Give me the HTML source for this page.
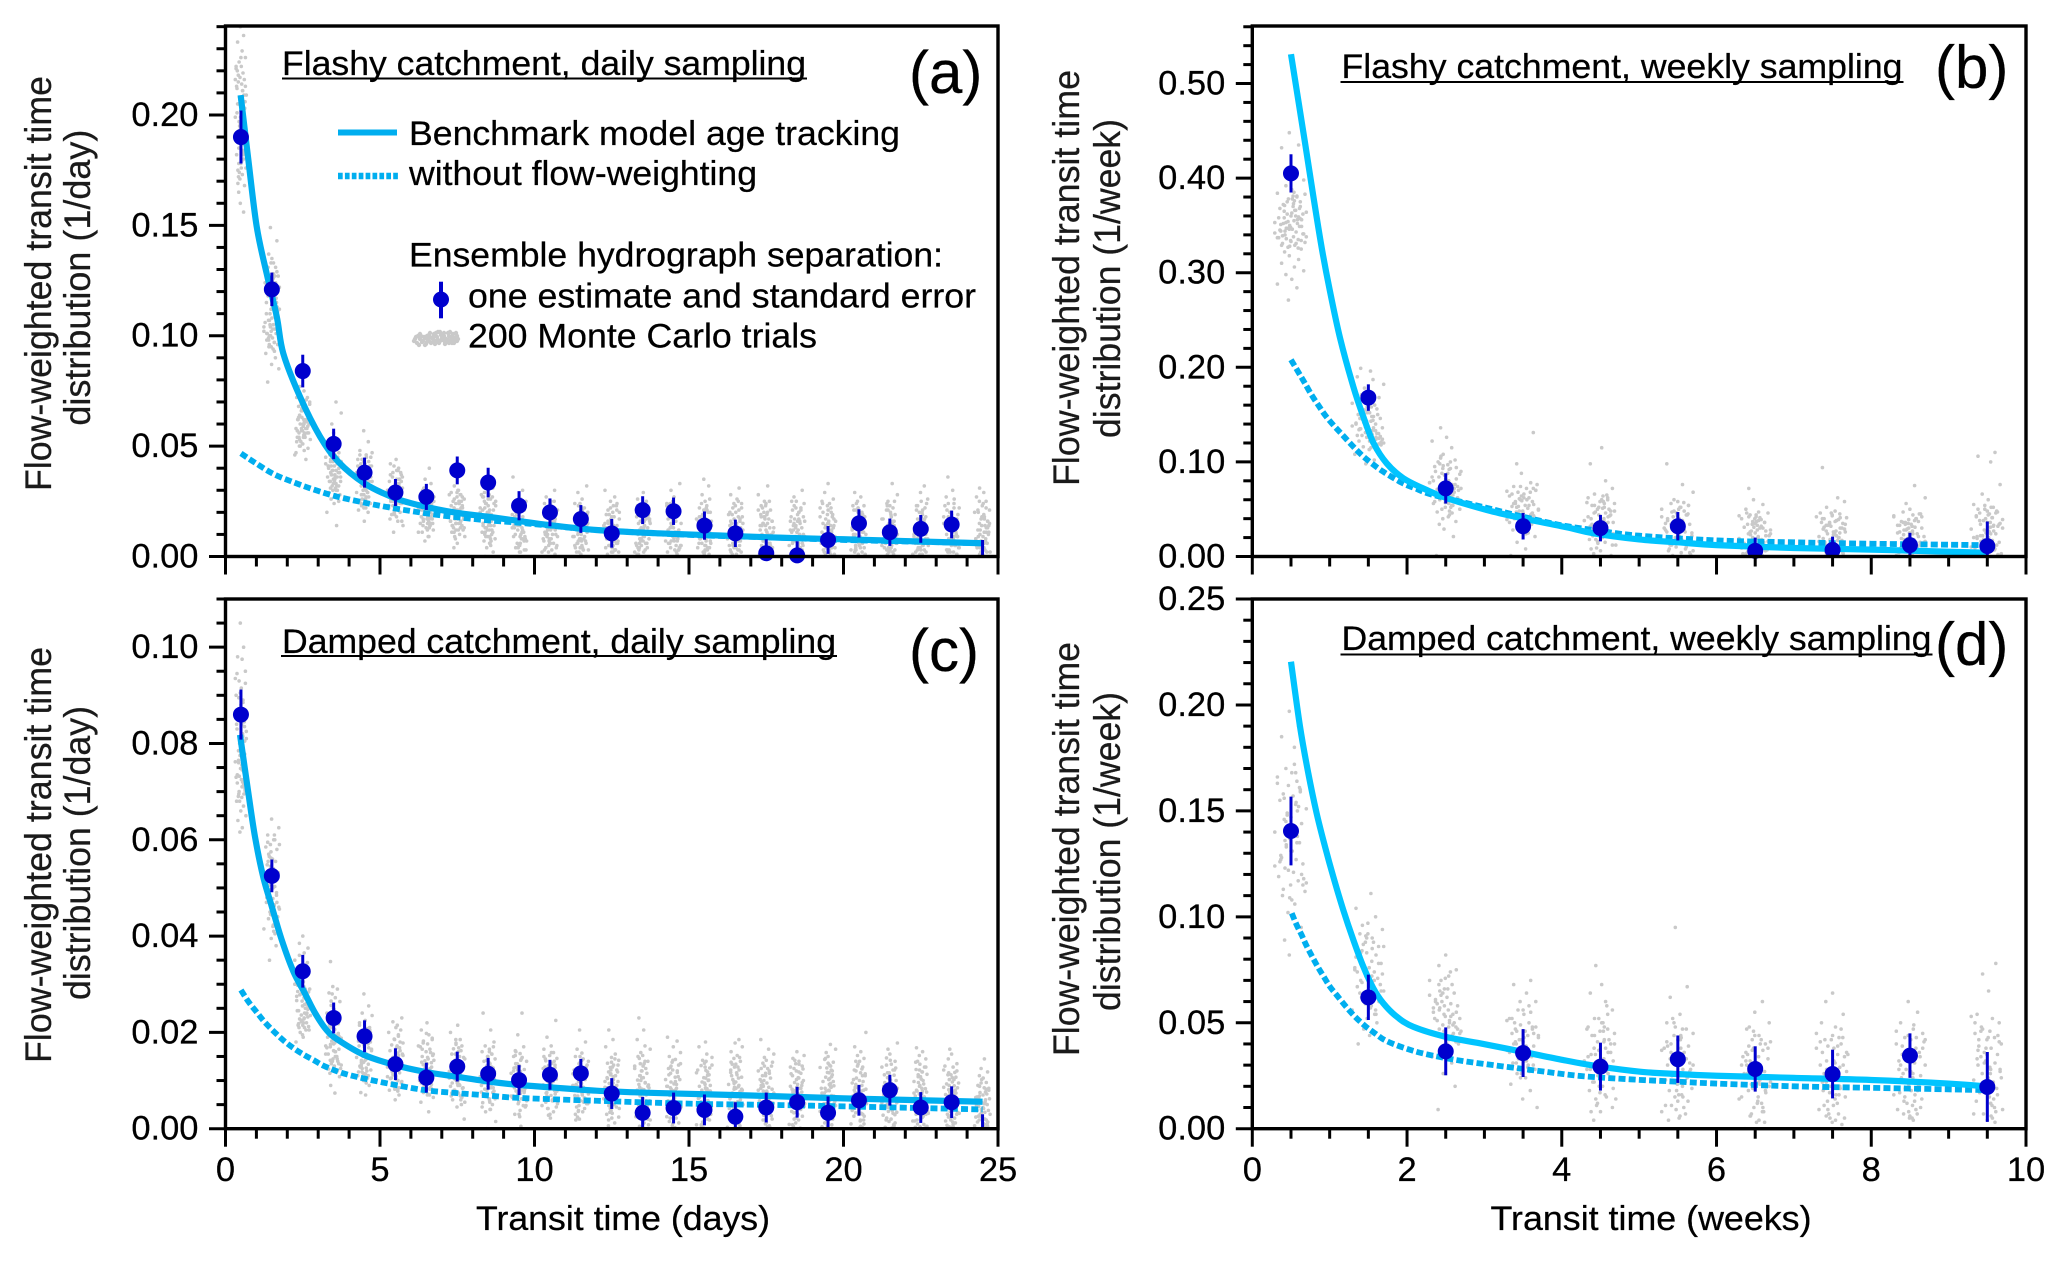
<!DOCTYPE html>
<html lang="en">
<head>
<meta charset="utf-8">
<title>Flow-weighted transit time distributions</title>
<style>
html,body{margin:0;padding:0;background:#fff;}
svg{display:block;}
text{font-family:"Liberation Sans",Arial,sans-serif;fill:#000;stroke:#000;stroke-width:.25px;}
.tick{font-size:34.5px;}
.body{font-size:34.5px;}
.ytitle{font-size:37.5px;fill:#1a1a1a;stroke:#1a1a1a;}
.tag{font-size:60px;}
</style>
</head>
<body>
<svg id="figure" xmlns="http://www.w3.org/2000/svg" width="2067" height="1262" viewBox="0 0 2067 1262">
  <rect width="2067" height="1262" fill="#fff"/>
  <defs>
    <clipPath id="plot-a"><rect x="225" y="26" width="773" height="531"/></clipPath>
    <clipPath id="plot-b"><rect x="1252" y="26" width="774" height="531"/></clipPath>
    <clipPath id="plot-c"><rect x="225" y="599" width="773" height="530"/></clipPath>
    <clipPath id="plot-d"><rect x="1252" y="599" width="774" height="530"/></clipPath>
    <clipPath id="mark-a"><rect x="215" y="26" width="790" height="544"/></clipPath>
    <clipPath id="mark-b"><rect x="1242" y="26" width="790" height="544"/></clipPath>
    <clipPath id="mark-c"><rect x="215" y="599" width="790" height="543"/></clipPath>
    <clipPath id="mark-d"><rect x="1242" y="599" width="790" height="543"/></clipPath>
  </defs>
  <g id="layer-a"></g>
  <g id="layer-b"></g>
  <g id="layer-c"></g>
  <g id="layer-d"></g>

  <text class="ytitle" transform="translate(51,491) rotate(-90)" textLength="415" lengthAdjust="spacingAndGlyphs">Flow-weighted transit time</text>
  <text class="ytitle" transform="translate(90,425.6) rotate(-90)" textLength="296" lengthAdjust="spacingAndGlyphs">distribution (1/day)</text>
  <text class="ytitle" transform="translate(1079,486) rotate(-90)" textLength="416" lengthAdjust="spacingAndGlyphs">Flow-weighted transit time</text>
  <text class="ytitle" transform="translate(1120,438) rotate(-90)" textLength="319" lengthAdjust="spacingAndGlyphs">distribution (1/week)</text>
  <text class="ytitle" transform="translate(51,1063) rotate(-90)" textLength="416" lengthAdjust="spacingAndGlyphs">Flow-weighted transit time</text>
  <text class="ytitle" transform="translate(90,1000) rotate(-90)" textLength="294" lengthAdjust="spacingAndGlyphs">distribution (1/day)</text>
  <text class="ytitle" transform="translate(1079,1056) rotate(-90)" textLength="414" lengthAdjust="spacingAndGlyphs">Flow-weighted transit time</text>
  <text class="ytitle" transform="translate(1120,1011) rotate(-90)" textLength="319" lengthAdjust="spacingAndGlyphs">distribution (1/week)</text>

  <text class="body" x="282" y="75" textLength="524" lengthAdjust="spacingAndGlyphs">Flashy catchment, daily sampling</text>
  <line x1="282" x2="807" y1="78.5" y2="78.5" stroke="#000" stroke-width="2"/>
  <text class="body" x="1341.5" y="78" textLength="561" lengthAdjust="spacingAndGlyphs">Flashy catchment, weekly sampling</text>
  <line x1="1340.5" x2="1903.5" y1="82" y2="82" stroke="#000" stroke-width="2"/>
  <text class="body" x="282" y="653" textLength="554" lengthAdjust="spacingAndGlyphs">Damped catchment, daily sampling</text>
  <line x1="281" x2="837" y1="656" y2="656" stroke="#000" stroke-width="2"/>
  <text class="body" x="1341.5" y="650" textLength="590" lengthAdjust="spacingAndGlyphs">Damped catchment, weekly sampling</text>
  <line x1="1340.5" x2="1932.5" y1="654.5" y2="654.5" stroke="#000" stroke-width="2"/>

  <text class="tag" x="909" y="93">(a)</text>
  <text class="tag" x="1935" y="87.5">(b)</text>
  <text class="tag" x="909" y="671">(c)</text>
  <text class="tag" x="1935" y="664.5">(d)</text>

  <text class="body" x="476" y="1230" textLength="294" lengthAdjust="spacingAndGlyphs">Transit time (days)</text>
  <text class="body" x="1490.5" y="1230" textLength="321" lengthAdjust="spacingAndGlyphs">Transit time (weeks)</text>

  <g>
    <line x1="338" x2="397" y1="132.5" y2="132.5" stroke="#00aeef" stroke-width="6"/>
    <text class="body" x="409" y="145" textLength="491" lengthAdjust="spacingAndGlyphs">Benchmark model age tracking</text>
    <line x1="338" x2="399" y1="176" y2="176" stroke="#00aeef" stroke-width="6.5" stroke-dasharray="4.7 2.2"/>
    <text class="body" x="409" y="185" textLength="348" lengthAdjust="spacingAndGlyphs">without flow-weighting</text>
    <text class="body" x="409" y="266.7" textLength="534" lengthAdjust="spacingAndGlyphs">Ensemble hydrograph separation:</text>
    <line x1="441" x2="441" y1="281.7" y2="318.3" stroke="#0000cd" stroke-width="4"/>
    <circle cx="441" cy="299.5" r="8" fill="#0000cd"/>
    <text class="body" x="468" y="307.7" textLength="508" lengthAdjust="spacingAndGlyphs">one estimate and standard error</text>
    <g id="legend-cloud"></g>
    <text class="body" x="468" y="347.7" textLength="349" lengthAdjust="spacingAndGlyphs">200 Monte Carlo trials</text>
  </g>
</svg>

<script>
/* ---------- bin centres ---------- */
const binsDaily = [0.5,1.5,2.5,3.5,4.5,5.5,6.5,7.5,8.5,9.5,10.5,11.5,12.5,13.5,14.5,15.5,16.5,17.5,18.5,19.5,20.5,21.5,22.5,23.5,24.5];
const binsWeekly = [0.5,1.5,2.5,3.5,4.5,5.5,6.5,7.5,8.5,9.5];

/* ---------- single-estimate points and standard errors ---------- */
const estimateA = [.19,.121,.084,.051,.038,.029,.027,.039,.0335,.023,.02,.017,.0105,.021,.0205,.014,.0105,.0015,.0005,.0075,.015,.011,.0125,.0145,-.015];
const errorA = [.012,.0076,.0074,.0069,.0068,.0061,.0059,.0063,.0067,.0066,.0063,.0063,.0065,.0063,.0062,.0064,.0062,.0063,.0064,.0063,.0064,.0062,.0063,.0063,.0225];
const estimateB = [.405,.168,.072,.032,.03,.032,.006,.007,.012,.011];
const errorB = [.0202,.014,.016,.014,.014,.015,.014,.014,.013,.026];
const estimateC = [.086,.0525,.0327,.023,.0192,.0134,.0106,.0129,.0114,.0101,.0112,.0115,.0073,.0033,.0043,.0039,.0025,.0044,.0055,.0033,.0059,.008,.0044,.0055,-.006];
const errorC = [.0052,.0034,.0034,.0032,.0033,.0033,.0031,.0031,.0033,.0031,.0031,.003,.0032,.0033,.0032,.0032,.003,.0031,.0032,.0034,.0032,.0032,.0032,.0033,.009];
const estimateD = [.1405,.062,.0365,.0357,.0293,.0328,.0282,.0258,.0345,.0197];
const errorD = [.0162,.0107,.0113,.0113,.0113,.0112,.0107,.0115,.0105,.0165];

/* ---------- model curves ---------- */
const benchTimesA = [.49,.74,1.01,1.33,1.66,1.87,2.41,3.06,3.65,4.49,5.49,6.46,7.48,8.5,9.48,10.5,12,14,16,18,20,22,24.5];
const benchA = [.209,.1796,.1494,.1283,.1086,.092,.0724,.0543,.0429,.0332,.0264,.0226,.0198,.018,.0161,.0142,.012,.0105,.0095,.0085,.0078,.007,.006];
const dashTimesA = [.5,.955,1.55,2.19,2.84,3.54,4.49,5.27,6.13,7.16,8.4,9.48,10.5,12,15,18,20,24.5];
const dashA = [.0467,.0425,.0374,.0337,.0304,.0274,.0244,.0223,.0203,.0183,.0165,.0153,.014,.012,.0098,.0085,.0075,.006];

const benchTimesB = [.5,.68,.8,.9,1,1.134,1.306,1.435,1.568,1.737,1.953,2.254,2.495,3.03,3.494,4.06,4.41,5,5.5,6,7,8,9,9.5];
const benchB = [.531,.438,.375,.325,.282,.231,.1795,.1478,.1197,.0985,.0827,.0703,.0622,.0492,.0404,.0309,.0245,.018,.015,.012,.009,.0073,.005,.004];
const dashTimesB = [.5,.617,.681,.767,.853,.94,1.047,1.155,1.285,1.414,1.543,1.693,1.931,2.103,2.34,3,3.5,4,4.5,5,6,7,8,9.5];
const dashB = [.208,.1919,.183,.1707,.16,.1496,.139,.1295,.1179,.1073,.0985,.0896,.078,.0721,.065,.052,.042,.033,.027,.022,.017,.015,.0135,.012];

const benchTimesC = [.47,.74,.955,1.22,1.5,1.82,2.2,2.57,2.9,3.27,3.65,4.49,5.49,6.46,7.48,8.5,9.48,10.5,12,14,17,20,24.5];
const benchC = [.0818,.0697,.0606,.0523,.0461,.0392,.0326,.0281,.024,.0205,.0184,.0153,.0132,.0118,.0108,.0098,.0091,.0086,.0079,.0074,.0069,.0063,.0056];
const dashTimesC = [.5,.74,1.01,1.26,1.58,1.9,2.23,2.55,2.84,3.2,3.81,4.57,5.49,6.46,7.48,8.5,9.48,12,15,18,21,24.5];
const dashC = [.0288,.0264,.0242,.0222,.0201,.0182,.0166,.0153,.0143,.013,.0115,.0103,.0091,.008,.0074,.0069,.0064,.0058,.0052,.0049,.0045,.004];

const benchTimesD = [.5,.617,.724,.832,.94,1.047,1.176,1.306,1.435,1.564,1.693,1.866,2.08,2.495,2.943,3.495,4.02,4.494,5.01,5.49,6,7,8,9,9.5];
const benchD = [.2204,.1897,.1677,.1488,.1331,.1189,.1032,.0891,.0765,.0663,.0592,.0529,.0481,.0434,.0403,.0363,.0324,.0293,.0269,.0258,.025,.024,.023,.0213,.0199];
const dashTimesD = [.51,.574,.638,.703,.832,.918,1.004,1.09,1.211,1.327,1.457,1.586,1.728,1.974,2.232,2.642,3.03,3.676,4.235,4.88,5.49,6,7,8,9.5];
const dashD = [.1017,.0961,.0914,.0862,.0773,.0721,.067,.0631,.0576,.0529,.0485,.045,.0415,.038,.0353,.0324,.0304,.0274,.0249,.0233,.0222,.0213,.02,.0193,.0182];

/* ---------- Monte Carlo trials, read by eye per bin ---------- */
const trialUnitA = 0.001;
const trialsA = [
[240,236,233,229,226,224,222,221,219,217,216,215,214,212,211,209,208,206,205,203,201,199,198,196,195,193,192,190,188,187,185,183,182,180,178,176,175,173,171,168,165,160,156],
[149,143,137,133,131,130,128,127,126,125,124,122,121,120,118,117,115,113,112,110,108,107,106,105,104,103,102,101,100,99,98,97,96,95,94,92,90,87,85,79],
[77,75,72,71,70,69,68,67,66,65,64,63,62,62,61,60,60,59,58,58,57,56,56,55,54,54,53,52,51,50,49,48,46,44],
[70,65,60,56,50,47,46,45,44,43,42,41,41,40,39,38,38,37,36,36,35,34,34,33,32,32,31,30,30,29,28,28,26,24,20,14],
[57,52,48,46,45,44,42,41,40,39,38,38,37,36,35,34,33,32,32,31,30,29,29,28,27,26,26,25,24,24,23,22,21,20,16],
[44,42,39,37,36,35,34,33,32,31,30,30,29,28,27,27,26,25,25,24,23,23,22,21,20,20,19,18,17,16,14,11],
[40,35,33,30,29,28,27,27,26,25,24,24,23,22,21,21,20,19,19,18,17,17,16,15,15,14,13,12,11,9,7],
[32,30,29,28,27,26,25,24,24,23,22,21,20,20,19,18,18,17,16,15,15,14,13,12,11,10,9,8,6,4],
[31,29,28,27,26,25,24,23,22,21,21,20,19,18,17,17,16,15,14,14,13,12,11,10,9,8,7,6,4,2,0],
[36,30,26,25,24,23,22,21,20,19,18,17,16,16,15,14,13,13,12,11,10,9,9,8,7,6,5,4,3,2],
[30,27,25,24,22,21,20,19,18,17,16,15,15,14,13,12,12,11,10,10,9,8,7,6,6,5,4,3,2,1],
[32,29,26,24,22,21,20,19,18,17,16,15,14,14,13,12,11,11,10,9,8,8,7,6,5,4,3,3,2,1],
[30,27,25,23,21,20,19,18,17,16,15,15,14,13,12,11,10,10,9,8,8,7,6,5,5,4,3,2,2,1],
[29,26,24,22,21,20,18,17,17,16,15,14,13,13,12,11,11,10,9,8,8,7,6,6,5,4,3,2,1,0],
[33,30,27,24,22,21,20,19,18,17,16,15,14,13,13,12,11,10,10,9,8,7,7,6,5,4,4,3,2,1],
[35,32,28,25,22,21,20,18,17,16,16,15,14,13,12,12,11,10,9,9,8,7,6,6,5,4,3,2,1,0],
[31,28,26,24,22,20,19,18,17,16,15,14,14,13,12,11,11,10,9,8,8,7,6,5,5,4,3,3,2,1],
[32,28,25,23,21,20,19,18,17,16,15,15,14,13,12,11,10,10,9,8,7,7,6,5,4,4,3,2,1,0],
[30,27,25,22,21,20,18,17,16,16,15,14,13,12,12,11,10,9,9,8,7,6,6,5,4,3,3,2,1,0],
[33,29,26,24,22,20,19,18,17,16,15,14,14,13,12,11,11,10,9,8,8,7,6,5,5,4,3,2,1,1],
[29,27,25,23,21,20,19,17,16,15,15,14,13,12,12,11,10,9,9,8,7,7,6,5,4,4,3,2,1,0],
[33,28,25,23,21,19,18,17,16,15,14,14,13,12,11,11,10,9,8,8,7,6,6,5,4,3,3,2,1,0],
[32,29,26,23,21,20,18,17,16,15,14,14,13,12,11,10,10,9,8,8,7,6,5,5,4,3,3,2,1,1],
[36,30,27,24,22,20,19,18,17,16,15,14,13,13,12,11,10,9,9,8,7,6,6,5,4,3,2,2,1,0],
[31,29,27,25,23,21,20,18,17,16,15,14,13,12,11,11,10,9,8,7,7,6,5,4,4,3,2,2,1,0]
];
const moreTrialsA = [
[205,188,213,197,176,222,184,207,193,218,179,201,211,186,195,226,172,203,190,216,182,199,209,174,194,220,187,206,178,197,213,183,202,191,169,208],
[118,104,129,98,112,124,101,133,108,96,120,106,127,100,115,131,103,110,97,122,105,135,99,113,126,102,109,95,117,107,128,101,93,111],
[66,58,71,54,62,68,56,74,60,52,65,57,70,63,55,69,59,53,67,61,73,56,64,50,60,47,66,58,72,54,62,57],
[44,38,46,35,41,33,43,37,47,34,40,36,42,32,39,45,37,34,41,30,38,44,35,28,42,33,36,48,31,39,25,43],
[41,35,45,30,38,28,43,33,46,27,36,40,31,44,29,37,34,42,26,39,32,47,28,35,24,41,30,38,33,22,43,36],
[33,27,38,24,30,40,26,35,23,31,37,28,34,25,39,29,32,22,36,27,33,41,24,30,19,35,26,29,16,38,31,23],
[24,17,29,14,21,26,15,31,19,23,13,27,18,22,12,28,16,25,20,30,14,23,18,11,26,21,15,29,17,24,9,19],
[22,15,28,13,19,25,17,30,14,21,12,26,18,23,16,29,13,20,24,15,27,11,19,22,14,25,17,9,21,16,28,12],
[20,12,27,9,17,24,14,28,7,19,11,25,15,21,8,23,13,26,10,18,6,22,16,12,27,9,20,14,5,24,11,17],
[17,8,23,11,19,5,14,25,9,21,6,16,12,24,3,18,10,20,7,15,4,22,13,26,8,17,2,19,11,14],
[15,7,22,10,18,4,13,24,8,20,5,16,11,23,3,17,9,14,6,19,12,21,2,15,8,25,10,6,18,13],
[16,6,21,9,19,4,12,23,7,17,3,14,10,22,5,18,8,15,2,20,11,13,6,24,9,16,4,19,7,12],
[14,5,21,8,17,3,12,23,7,19,4,15,10,22,6,16,2,13,9,20,5,18,11,24,7,14,3,17,10,12],
[15,7,24,4,18,10,2,21,12,6,16,9,23,3,19,8,13,5,22,11,17,1,14,8,20,6,12,25,4,16],
[16,5,22,9,18,3,13,25,7,20,11,4,15,8,23,2,17,10,6,19,12,21,5,14,9,24,3,16,7,11],
[14,6,23,10,19,2,12,26,8,17,4,21,9,15,3,18,11,7,24,5,13,20,1,16,8,22,10,4,18,12],
[15,5,21,8,18,2,13,24,7,19,10,3,16,11,22,6,14,9,25,4,17,12,1,20,8,15,6,23,10,13],
[17,4,22,9,19,1,13,25,6,15,10,3,21,8,14,5,18,11,23,2,16,7,20,12,4,24,9,14,6,18],
[16,5,23,8,18,2,11,24,7,20,13,3,15,9,21,6,17,10,1,19,12,4,22,8,14,5,25,10,16,7],
[15,6,22,9,19,2,12,24,7,16,4,21,10,13,3,18,8,23,5,14,11,20,1,17,9,6,25,12,15,4],
[17,5,21,8,18,3,13,23,6,15,10,2,19,7,14,4,22,11,9,16,1,24,5,12,20,8,15,3,18,10],
[14,6,23,9,17,2,12,25,7,19,4,15,10,21,3,13,8,18,5,22,11,16,1,20,7,14,9,24,4,12],
[16,4,22,9,18,2,13,24,6,20,11,3,15,8,21,5,14,10,23,1,17,7,19,12,4,25,9,15,6,11],
[15,5,21,8,19,3,12,23,7,17,10,2,14,6,22,4,16,9,24,1,13,18,5,20,11,7,15,3,26,9],
[16,4,20,8,18,2,12,24,6,14,10,1,19,5,22,3,15,9,17,7,13,25,2,11,21,6,14,4,18,8]
];
const trialUnitB = 0.001;
const trialsB = [
[448,435,432,405,398,392,388,384,381,378,375,372,370,368,366,364,362,360,358,356,355,353,352,350,349,347,346,344,343,341,340,338,337,335,334,332,331,329,327,325,322,318,314,310,306,302,298,293,288,284,271],
[199,196,190,187,182,178,175,171,168,165,162,160,158,156,154,152,150,148,146,145,143,141,140,138,136,135,133,131,130,128,126,124,122,120,118,116,113,108,102,98],
[136,126,122,115,108,102,100,97,95,93,90,88,86,84,82,80,78,76,74,72,70,68,66,64,62,60,58,56,54,52,50,47,44,40,37,34,29,21,1],
[131,98,88,78,74,72,70,68,66,64,62,60,58,56,54,53,51,49,48,46,44,43,41,39,38,36,34,32,30,28,25,21,15,8,1],
[115,98,80,72,66,64,62,60,58,56,54,52,50,48,46,44,42,40,38,36,34,32,30,28,26,24,22,20,18,15,12,9,6,3,1],
[98,76,68,60,58,56,54,52,50,48,46,44,42,40,38,36,34,32,30,28,26,24,22,20,18,16,14,12,10,8,6,4,2,1],
[72,60,55,50,47,46,44,42,40,39,37,36,34,33,31,30,28,27,25,24,22,21,19,18,16,15,13,12,10,9,7,6,4,3,1],
[94,62,58,52,48,46,45,43,41,40,38,36,35,33,32,30,29,27,26,24,23,21,20,18,17,15,14,12,11,9,8,6,5,3,1],
[75,62,56,50,47,45,44,42,40,39,37,36,34,33,31,30,28,27,25,24,22,21,19,18,17,15,14,12,11,9,8,6,5,3,1],
[110,106,100,76,66,60,55,52,50,48,46,45,43,41,39,38,36,34,32,31,29,27,25,24,22,20,19,17,15,13,11,9,7,5,3,1]
];
const moreTrialsB = [
[370,352,381,345,360,338,375,333,365,349,385,342,356,328,368,336,378,351,331,362,344,373,358,326,348,383,339,366,354,334,371,346,359,329,376,341,353,363,337,380,347,357],
[150,135,162,128,144,120,155,132,147,125,158,138,118,152,130,142,122,160,136,127,149,115,140,133,154,124,146,129,137,119,156,143,126,134,148,121],
[92,70,104,62,84,54,96,76,66,88,58,100,72,50,82,64,94,56,78,46,86,68,106,60,90,52,74,98,42,80,65,57,87,71,48,93],
[68,48,76,40,60,34,72,52,64,44,56,30,70,42,62,36,54,74,46,58,28,66,38,50,61,33,47,55,24,69,41,59,45,53],
[58,38,65,26,50,18,60,32,46,12,54,28,42,62,22,48,34,56,16,44,30,52,36,8,40,24,47,20,57,35,14,43,27,51],
[50,30,57,20,44,12,52,26,38,6,48,24,34,54,16,42,28,46,10,36,22,40,32,4,47,18,35,14,43,25,8,38,29,45],
[40,22,46,12,34,6,42,18,30,3,38,16,26,44,9,32,20,36,5,28,14,41,24,2,35,11,27,19,43,7,31,15,23,37],
[42,20,46,10,33,5,40,17,29,2,37,14,25,44,8,31,22,35,4,27,12,41,19,1,34,9,26,16,39,6,30,13,24,36],
[40,19,45,10,32,4,38,16,28,2,36,13,24,43,7,30,21,34,3,26,11,42,18,1,33,8,25,15,37,5,29,12,23,35],
[52,28,47,16,40,8,50,24,35,3,44,20,32,54,12,38,26,42,6,30,18,48,22,2,36,10,33,14,46,4,27,21,41,34]
];
const trialUnitC = 0.0001;
const trialsC = [
[1050,1000,980,975,950,930,915,900,885,870,860,850,840,830,820,810,800,792,785,778,770,762,755,748,740,732,725,718,710,702,695,688,680,670,660,650,640,625,616],
[643,625,610,600,590,580,570,562,555,548,540,532,525,518,510,503,497,490,484,478,470,463,456,450,444,436,430,423,415,405,395,380,350],
[400,385,375,365,350,340,330,320,312,305,298,290,284,278,272,266,260,255,250,245,240,236,232,228,224,220,215,210,205,200,190,180],
[347,295,290,282,272,264,256,248,240,232,225,218,212,206,200,194,188,182,176,170,165,160,155,150,145,140,135,130,124,118,108,90,74],
[280,255,240,225,215,208,200,194,188,182,176,170,165,160,155,150,146,142,138,134,130,126,122,118,114,110,105,100,90,75,70],
[230,222,210,200,192,186,180,174,168,162,157,152,148,144,140,136,132,128,124,120,116,112,108,104,100,95,90,85,80,70,60],
[220,205,195,188,182,176,170,165,160,155,150,145,141,137,133,129,125,121,117,113,109,105,100,95,90,85,78,70,55,35],
[215,200,185,178,172,166,160,155,150,145,140,135,131,127,123,119,115,111,107,103,99,95,90,85,80,74,68,60,45,20],
[240,205,180,172,165,160,155,150,145,140,135,130,126,122,118,114,110,106,102,98,94,90,85,80,75,70,62,54,40,15,0],
[240,195,170,162,156,150,145,140,135,131,127,123,119,115,111,107,103,99,95,91,87,83,78,73,68,62,56,48,30,5],
[225,190,172,165,158,152,146,141,136,131,127,123,119,115,111,107,103,99,95,91,87,83,79,74,69,64,58,52,42,30],
[205,180,165,157,150,145,140,135,130,126,122,118,114,110,106,102,98,94,90,86,82,78,74,69,64,58,52,45,35,20],
[205,185,170,155,148,142,136,132,127,122,118,114,110,106,102,98,94,90,86,81,77,72,67,62,56,50,42,34,22,6,0],
[230,205,185,172,165,158,152,146,140,135,130,125,120,115,110,106,101,96,91,86,81,76,70,64,58,50,42,33,20,5],
[190,182,170,158,150,144,138,132,127,122,117,112,107,102,97,93,88,84,79,74,69,64,58,52,45,38,30,22,12,2],
[180,170,155,148,142,136,131,126,121,116,111,106,101,97,92,88,83,78,73,68,63,58,52,46,40,34,27,18,8,1],
[185,178,170,160,152,146,140,134,128,122,117,112,107,102,97,92,87,82,77,72,67,62,56,50,44,37,30,22,12,3],
[185,165,155,148,142,136,130,125,120,115,110,105,100,95,90,86,82,78,74,69,64,59,53,47,40,34,27,18,10,2],
[160,152,146,140,135,130,125,120,115,110,105,100,96,92,88,84,80,76,72,67,62,57,52,46,40,33,26,18,9,1],
[175,165,158,150,144,138,132,127,122,117,112,107,102,98,94,89,84,79,74,69,64,58,52,46,40,33,25,17,8,0],
[200,170,160,152,146,140,134,128,122,116,110,105,100,95,90,85,80,75,70,64,58,52,46,40,33,26,18,10,3,0],
[178,165,155,147,140,134,128,122,116,111,106,101,96,91,86,81,76,71,66,60,54,48,42,36,29,22,15,8,3,1],
[168,160,152,145,140,134,128,123,118,113,108,103,98,93,88,83,78,73,68,62,56,50,44,37,30,23,16,9,4,1],
[165,155,145,135,128,122,117,112,107,102,97,93,89,85,81,76,71,66,60,54,48,42,36,30,24,18,12,7,3,0],
[145,125,118,110,102,96,90,85,80,75,70,65,60,55,50,46,42,38,34,30,26,22,18,14,10,6,3,1]
];
const moreTrialsC = [
[835,760,905,715,860,745,925,700,810,730,890,775,845,690,795,945,720,825,680,880,765,805,710,935,750,855,695,785,870,735,815,705,895,755,840,725],
[560,480,610,440,535,500,585,425,520,460,595,410,545,470,505,575,435,490,530,415,565,450,515,600,445,485,555,420,510,465,590,475],
[270,225,345,210,295,245,320,235,280,215,360,255,230,300,205,265,240,335,220,285,250,212,310,228,275,238,195,290,218,258,222,248],
[190,145,250,125,215,160,280,135,175,230,120,205,150,185,265,128,168,240,140,198,115,178,155,222,132,210,162,142,192,122,172,235],
[172,120,235,105,158,130,205,112,148,190,100,168,125,142,220,108,180,135,152,118,198,102,162,128,145,115,210,138,175,110,155,95],
[155,105,215,92,140,118,185,85,128,172,98,148,110,132,195,88,162,122,102,142,78,178,115,135,95,205,125,108,152,82,168,112],
[142,100,198,78,128,108,172,70,118,158,88,135,95,122,185,75,148,112,82,130,65,165,105,125,92,178,115,85,138,72,152,98],
[132,92,185,70,118,100,162,60,108,148,80,125,88,112,175,65,138,102,74,120,55,155,95,115,84,168,105,68,128,50,142,90],
[125,82,170,58,108,92,150,50,98,138,70,115,78,102,160,45,128,88,62,110,40,142,85,105,72,155,95,55,118,35,132,76],
[122,75,160,52,100,85,142,45,92,130,65,108,72,95,152,38,120,80,58,102,30,135,78,98,68,148,88,48,112,25,126,62],
[118,72,158,48,98,82,140,42,88,128,60,105,68,92,150,35,116,78,55,100,28,132,75,95,62,145,85,45,110,22,125,58],
[112,68,150,42,92,78,132,36,84,122,55,100,62,88,142,30,110,72,48,95,24,128,70,90,58,138,80,38,105,18,118,52],
[108,62,145,38,88,70,128,30,78,118,48,95,55,82,138,24,104,65,42,90,18,122,60,85,50,132,75,32,98,12,112,45],
[105,58,150,35,85,68,130,25,75,120,45,92,52,80,140,18,100,62,38,88,12,125,55,82,48,135,72,28,95,8,110,42],
[102,55,142,32,82,62,125,22,72,115,42,88,48,78,135,15,98,58,35,85,10,120,52,80,45,130,68,25,92,6,108,38],
[100,52,140,30,80,60,122,20,70,112,40,85,46,75,132,14,95,56,34,82,8,118,50,78,42,128,65,22,90,5,105,36],
[105,54,148,32,84,64,128,22,74,116,42,90,50,80,138,14,98,60,36,86,10,122,52,82,46,134,70,24,94,6,110,40],
[98,50,138,28,78,58,120,18,68,110,38,84,44,74,130,12,92,54,32,80,6,115,48,76,40,125,62,20,88,4,102,34],
[102,52,142,30,82,60,124,20,72,114,40,86,46,76,134,12,96,56,34,84,8,118,50,78,42,128,66,22,90,5,106,36],
[104,54,146,30,84,62,126,20,74,116,42,88,48,78,136,12,98,58,36,86,6,120,52,80,44,130,68,24,92,4,108,38],
[98,48,140,26,78,56,120,16,68,110,36,82,42,72,130,10,92,52,30,80,5,114,46,74,38,124,62,18,86,3,102,32],
[100,50,142,28,80,58,122,18,70,112,38,84,44,74,132,12,94,54,32,82,6,116,48,76,40,126,64,20,88,4,104,34],
[96,48,138,26,76,56,118,16,66,108,36,80,42,72,128,10,90,52,30,78,5,112,46,74,38,122,60,18,84,3,100,32],
[90,44,130,22,72,52,112,14,62,102,32,76,38,68,120,8,86,48,28,74,4,106,42,70,34,116,56,16,80,2,95,30],
[72,30,105,14,56,38,88,8,48,82,22,62,26,52,95,5,68,34,18,58,2,84,28,44,24,76,40,10,64,1,66,20]
];
const trialUnitD = 0.001;
const trialsD = [
[197,190,185,180,176,170,168,166,164,162,160,158,157,155,153,151,149,147,146,144,142,140,138,137,135,133,131,129,127,125,123,121,119,117,115,112,110,106,102,95,89,82],
[111,104,100,97,94,92,90,88,86,84,83,82,80,79,78,77,76,75,74,72,71,70,68,67,66,65,64,63,62,60,58,56,54,52,50,47,44,40],
[82,77,75,72,70,68,66,64,63,62,60,59,58,57,56,55,54,53,52,51,50,49,48,47,46,45,44,42,40,38,36,34,31,26,20,9],
[70,68,64,60,56,54,52,50,49,48,47,46,45,44,43,42,41,40,39,38,37,36,35,34,33,32,31,30,28,26,24,21,18,14,10],
[77,68,64,60,56,52,50,48,47,46,45,44,42,41,40,38,37,36,35,33,32,31,30,28,27,25,24,22,20,18,16,14,11,8,4,0],
[95,67,62,54,50,47,45,44,42,40,39,38,37,36,34,33,32,31,30,28,27,26,25,23,22,21,19,18,16,15,13,11,9,7,4],
[60,55,50,47,44,42,40,39,38,37,36,34,33,32,31,30,29,28,27,26,25,24,23,22,21,19,18,17,15,14,12,10,8,6,3,0],
[64,60,54,48,45,43,42,40,39,38,36,35,34,32,31,30,29,28,27,26,25,24,23,22,20,19,18,16,15,13,11,9,7,5,2],
[60,55,50,47,45,43,42,40,38,37,36,35,33,32,31,30,28,27,26,25,24,23,22,21,20,19,18,17,16,14,13,11,9,7,5],
[78,73,65,54,52,50,48,46,45,43,42,40,39,38,36,35,34,32,31,30,28,27,26,24,23,22,20,19,17,15,13,11,9,7,4,0]
];
const moreTrialsD = [
[152,128,172,118,145,108,163,135,122,159,113,141,126,168,116,148,131,156,120,139,124,150,109,161,134,143,127,154,115,136],
[88,68,96,61,81,56,92,73,64,85,59,78,69,90,54,82,72,65,87,60,76,70,91,63,83,57,74,67,86,62],
[66,52,74,46,60,42,68,55,48,63,44,58,50,70,40,61,53,47,65,43,57,49,71,45,59,51,64,41,56,54],
[50,38,60,30,46,26,55,40,32,48,28,43,36,58,24,47,41,34,52,29,44,37,56,31,45,39,51,27,42,35],
[46,32,58,20,42,14,50,28,38,10,44,24,34,54,17,40,30,48,12,36,22,52,26,8,41,19,35,29,47,15],
[43,28,52,16,38,10,48,24,33,6,41,20,30,50,13,36,26,44,8,32,18,47,22,5,39,15,31,25,42,11],
[40,24,48,13,34,8,44,20,30,4,37,18,27,46,10,32,22,38,6,28,15,42,19,3,35,12,26,21,41,7],
[42,24,50,12,35,7,44,19,30,4,38,16,27,47,9,32,22,39,5,28,14,41,20,3,36,11,26,17,43,6],
[41,24,49,12,34,7,44,18,30,4,38,15,27,46,9,32,21,39,5,28,13,42,19,6,35,10,26,16,43,8],
[44,26,53,14,38,8,47,21,33,5,41,18,29,50,10,35,24,42,6,31,16,46,22,3,37,12,28,19,43,7]
];
/* horizontal scatter of the trial dots, in units of each panel's spread */
const trialScatter = [-.2,.9,-1.1,.4,1.5,-.6,.1,-1.6,.7,-.3,1.1,-.9,.25,-1.3,.55,1.8,-.45,0,-.8,1.25,.35,-1.9,.75,-.15,1,-.55,.15,-1.2,.6,1.4,-.7,.3,-1.45,.85,-.05,1.65,-1,.45,-.35,1.2,-.75];
/* legend swatch dots: offsets in px from the swatch centre */
const swatchDX = [-22,-19,-16,-14,-12,-10,-8,-7,-5,-3,-2,0,1,3,5,6,8,10,11,13,15,17,19,21,-20,-15,-11,-6,-1,4,9,14,18,22,-17,-9,-4,2,7,12,16,20,-21,-18,-13,-9,-6,-3,0,2,6,9,12,15,18,21,-16,-11,-7,-2,4,8,13,17];
const swatchDY = [3,5,1,4,-1,6,2,-3,5,1,-4,3,-1,5,-3,2,-5,1,4,-2,2,-4,0,-2,-1,-2,7,-5,6,-6,6,-6,3,1,7,-2,0,-6,1,-5,5,-5,1,-2,3,4,-1,4,-5,2,0,4,2,-1,5,3,-4,0,3,-2,3,-2,5,-1];

/* ---------- axis tick values ---------- */
const xTicksDays = [0,5,10,15,20,25];
const xTickLabelsDays = ['0','5','10','15','20','25'];
const xMinorDays = 1;
const xTicksWeeks = [0,2,4,6,8,10];
const xTickLabelsWeeks = ['0','2','4','6','8','10'];
const xMinorWeeks = 0.5;
const yTicksA = [0,.05,.1,.15,.2];
const yTickLabelsA = ['0.00','0.05','0.10','0.15','0.20'];
const yTicksB = [0,.1,.2,.3,.4,.5];
const yTickLabelsB = ['0.00','0.10','0.20','0.30','0.40','0.50'];
const yTicksC = [0,.02,.04,.06,.08,.1];
const yTickLabelsC = ['0.00','0.02','0.04','0.06','0.08','0.10'];
const yTicksD = [0,.05,.1,.15,.2,.25];
const yTickLabelsD = ['0.00','0.05','0.10','0.15','0.20','0.25'];

/* ---------- rendering ---------- */
const NS = 'http://www.w3.org/2000/svg';
const COL_DOT = '#c9c9c9', COL_EST = '#0000cd', COL_DASH = '#00aeef';

function make(parent, tag, attrs) {
  const el = document.createElementNS(NS, tag);
  for (const k in attrs) el.setAttribute(k, attrs[k]);
  parent.appendChild(el);
  return el;
}

function linearScale(d0, d1, r0, r1) {
  return v => r0 + (v - d0) / (d1 - d0) * (r1 - r0);
}

/* pixel-space Catmull-Rom through the read points */
function curvePath(xs, ys, sx, sy) {
  const p = xs.map((x, i) => [sx(x), sy(ys[i])]);
  let d = 'M' + p[0][0].toFixed(2) + ' ' + p[0][1].toFixed(2);
  for (let i = 0; i < p.length - 1; i++) {
    const a = p[Math.max(0, i - 1)], b = p[i], c = p[i + 1], e = p[Math.min(p.length - 1, i + 2)];
    d += 'C' + (b[0] + (c[0] - a[0]) / 6).toFixed(2) + ' ' + (b[1] + (c[1] - a[1]) / 6).toFixed(2) + ' '
       + (c[0] - (e[0] - b[0]) / 6).toFixed(2) + ' ' + (c[1] - (e[1] - b[1]) / 6).toFixed(2) + ' '
       + c[0].toFixed(2) + ' ' + c[1].toFixed(2);
  }
  return d;
}

function drawPanel(o) {
  const g = document.getElementById('layer-' + o.id);
  const sx = linearScale(0, o.xMax, o.x0, o.x1);
  const sy = linearScale(0, o.yMax, o.y0, o.y1);

  /* Monte Carlo cloud */
  const cloud = make(g, 'g', { 'clip-path': 'url(#plot-' + o.id + ')' });
  
  
  let k = 0;
  o.trials.forEach((list, b) => {
    const spread = b === 0 ? o.spread0 : o.spread;
    list.concat(o.moreTrials[b]).forEach(v => {
      const dot = make(cloud, 'circle', {
        cx: (sx(o.bins[b]) + trialScatter[k % trialScatter.length] * spread).toFixed(1),
        cy: sy(v * o.trialUnit).toFixed(1),
        r: 1.8,
        fill: COL_DOT
      });
      
      
      k++;
    });
  });

  /* model curves */
  const dash = make(g, 'path', {
    d: curvePath(o.dashT, o.dash, sx, sy), fill: 'none', stroke: COL_DASH,
    'stroke-width': 5.8, 'stroke-dasharray': '7 3.2'
  });
  
  
  const bench = make(g, 'path', {
    d: curvePath(o.benchT, o.bench, sx, sy), fill: 'none', stroke: o.benchColor, 'stroke-width': 6.2
  });
  
  

  /* estimates */
  const est = make(g, 'g', {});
  
  
  o.bins.forEach((t, i) => {
    const bar = make(est, 'line', {
      x1: sx(t), x2: sx(t), y1: sy(o.est[i] + o.err[i]), y2: sy(o.est[i] - o.err[i]),
      stroke: COL_EST, 'stroke-width': 3, 'clip-path': 'url(#plot-' + o.id + ')'
    });
    
    
    const pt = make(est, 'circle', {
      cx: sx(t), cy: sy(o.est[i]), r: 8, fill: COL_EST, 'clip-path': 'url(#mark-' + o.id + ')'
    });
    
    
  });

  /* frame */
  const frame = make(g, 'rect', {
    x: o.x0, y: o.y1, width: o.x1 - o.x0, height: o.y0 - o.y1, fill: 'none', stroke: '#000', 'stroke-width': 3.4
  });
  
  

  /* x ticks */
  const xAxis = make(g, 'g', {});
  
  
  for (let n = 0; n * o.xMinor <= o.xMax + 1e-9; n++) {
    const t = n * o.xMinor;
    const tick = make(xAxis, 'line', {
      x1: sx(t), x2: sx(t), y1: o.y0, y2: o.y0 + (o.xTicks.includes(t) ? 18 : 10), stroke: '#000', 'stroke-width': 3
    });
    
    
  }
  if (o.showXLabels) {
    o.xTicks.forEach((t, i) => {
      const lab = make(xAxis, 'text', { x: sx(t), y: 1181, 'text-anchor': 'middle', class: 'tick' });
      lab.textContent = o.xLabels[i];
      
      
    });
  }

  /* y ticks */
  const yAxis = make(g, 'g', {});
  
  
  const isMajor = v => o.yTicks.some(m => Math.abs(m - v) < 1e-9);
  for (let n = 0; n * o.yMinor <= o.yMax + 1e-9; n++) {
    const v = n * o.yMinor;
    const tick = make(yAxis, 'line', {
      x1: o.x0 - (isMajor(v) ? 16.5 : 9), x2: o.x0, y1: sy(v), y2: sy(v), stroke: '#000', 'stroke-width': 3
    });
    
    
  }
  o.yTicks.forEach((v, i) => {
    const lab = make(yAxis, 'text', { x: o.x0 - 27, y: sy(v) + 11, 'text-anchor': 'end', class: 'tick' });
    lab.textContent = o.yLabels[i];
    
    
  });
}

drawPanel({ id:'a', x0:225.5, x1:998, y0:556.5, y1:26, xMax:25, yMax:.2403, bins:binsDaily, trials:trialsA, moreTrials:moreTrialsA, trialUnit:trialUnitA, spread:4.2, spread0:3,
  est:estimateA, err:errorA, benchT:benchTimesA, bench:benchA, dashT:dashTimesA, dash:dashA, benchColor:'#00aeef',
  xTicks:xTicksDays, xLabels:xTickLabelsDays, xMinor:xMinorDays, showXLabels:false, yTicks:yTicksA, yLabels:yTickLabelsA, yMinor:.01 });
drawPanel({ id:'b', x0:1252.3, x1:2026, y0:556.5, y1:26, xMax:10, yMax:.5608, bins:binsWeekly, trials:trialsB, moreTrials:moreTrialsB, trialUnit:trialUnitB, spread:8.5, spread0:8.5,
  est:estimateB, err:errorB, benchT:benchTimesB, bench:benchB, dashT:dashTimesB, dash:dashB, benchColor:'#00c4ff',
  xTicks:xTicksWeeks, xLabels:xTickLabelsWeeks, xMinor:xMinorWeeks, showXLabels:false, yTicks:yTicksB, yLabels:yTickLabelsB, yMinor:.02 });
drawPanel({ id:'c', x0:225.5, x1:998, y0:1128.7, y1:599, xMax:25, yMax:.11, bins:binsDaily, trials:trialsC, moreTrials:moreTrialsC, trialUnit:trialUnitC, spread:4.2, spread0:3,
  est:estimateC, err:errorC, benchT:benchTimesC, bench:benchC, dashT:dashTimesC, dash:dashC, benchColor:'#00aeef',
  xTicks:xTicksDays, xLabels:xTickLabelsDays, xMinor:xMinorDays, showXLabels:true, yTicks:yTicksC, yLabels:yTickLabelsC, yMinor:.005 });
drawPanel({ id:'d', x0:1252.3, x1:2026, y0:1128.7, y1:599, xMax:10, yMax:.25, bins:binsWeekly, trials:trialsD, moreTrials:moreTrialsD, trialUnit:trialUnitD, spread:8.5, spread0:8.5,
  est:estimateD, err:errorD, benchT:benchTimesD, bench:benchD, dashT:dashTimesD, dash:dashD, benchColor:'#00c4ff',
  xTicks:xTicksWeeks, xLabels:xTickLabelsWeeks, xMinor:xMinorWeeks, showXLabels:true, yTicks:yTicksD, yLabels:yTickLabelsD, yMinor:.01 });

const swatch = document.getElementById('legend-cloud');
swatchDX.forEach((dx, i) => {
  const s = make(swatch, 'circle', { cx: 436 + dx, cy: 338 + swatchDY[i], r: 2.2, fill: COL_DOT });
  
  
});
</script>
</body>
</html>
